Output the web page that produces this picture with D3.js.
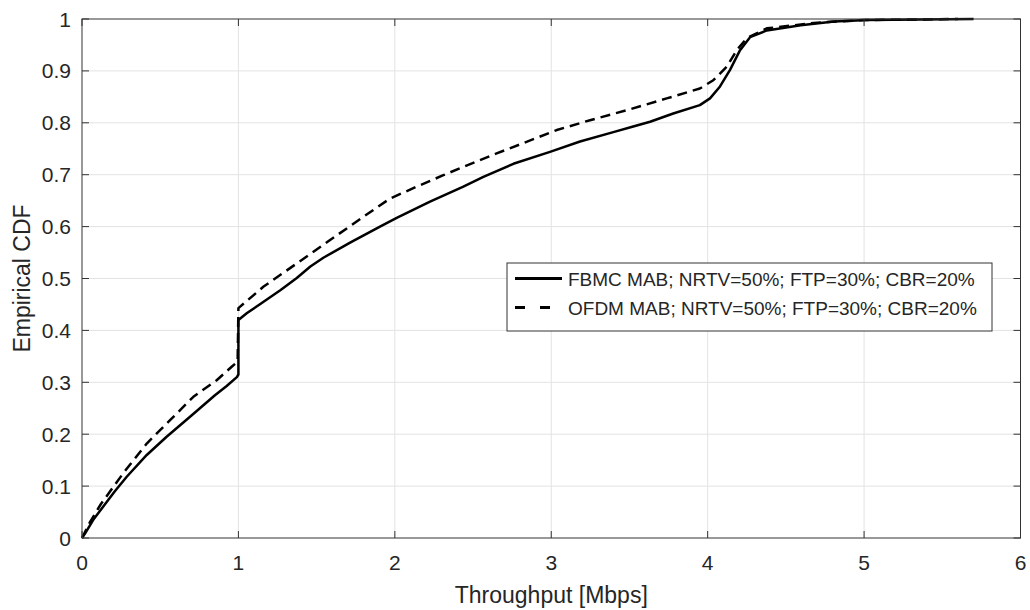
<!DOCTYPE html>
<html>
<head>
<meta charset="utf-8">
<script src="https://cdn.jsdelivr.net/npm/d3@7"></script>
<style>
  html, body { margin: 0; padding: 0; background: #fff; }
  svg { display: block; font-family: "Liberation Sans", Arial, sans-serif; }
</style>
</head>
<body>
<svg id="chart" width="1030" height="610"></svg>
<script>
// Empirical CDF of throughput (Mbps) for the two multiple-access schemes
const fbmcX = [0, 0.02, 0.072, 0.147, 0.21, 0.286, 0.414, 0.541, 0.70, 0.85, 0.925, 0.99, 1.0,
  1.0, 1.053, 1.14, 1.27, 1.373, 1.46, 1.543, 1.714, 1.905, 2.012, 2.225, 2.438, 2.566, 2.758, 2.992,
  3.184, 3.397, 3.524, 3.632, 3.78, 3.95, 4.015, 4.079, 4.143, 4.207, 4.271, 4.378, 4.595, 4.808, 5.02, 5.7];
const fbmcY = [0, 0.009, 0.035, 0.065, 0.09, 0.118, 0.16, 0.195, 0.236, 0.275, 0.293, 0.31, 0.315,
  0.42, 0.433, 0.451, 0.478, 0.501, 0.523, 0.54, 0.569, 0.60, 0.617, 0.648, 0.677, 0.696, 0.721, 0.744,
  0.764, 0.782, 0.793, 0.802, 0.818, 0.834, 0.847, 0.87, 0.902, 0.94, 0.965, 0.978, 0.988, 0.995, 0.998, 1.0];

const ofdmX = [0, 0.05, 0.12, 0.264, 0.414, 0.563, 0.712, 0.861, 0.957, 0.995, 1.0,
  1.159, 1.373, 1.586, 1.799, 1.969, 2.14, 2.31, 2.438, 2.651, 2.822, 3.035, 3.248, 3.504,
  3.738, 3.95, 4.036, 4.122, 4.186, 4.25, 4.378, 4.7, 5.0, 5.6];
const ofdmY = [0, 0.03, 0.065, 0.125, 0.182, 0.227, 0.272, 0.304, 0.33, 0.34, 0.443,
  0.484, 0.529, 0.574, 0.619, 0.654, 0.677, 0.699, 0.715, 0.741, 0.761, 0.786, 0.805, 0.826,
  0.847, 0.866, 0.882, 0.908, 0.94, 0.963, 0.982, 0.993, 0.998, 1.0];

const xTicks = [0, 1, 2, 3, 4, 5, 6];
const yTicks = [0, 0.1, 0.2, 0.3, 0.4, 0.5, 0.6, 0.7, 0.8, 0.9, 1];
const yTickLabels = ["0", "0.1", "0.2", "0.3", "0.4", "0.5", "0.6", "0.7", "0.8", "0.9", "1"];

const seriesNames = [
  "FBMC MAB; NRTV=50%; FTP=30%; CBR=20%",
  "OFDM MAB; NRTV=50%; FTP=30%; CBR=20%"
];
const xLabel = "Throughput [Mbps]";
const yLabel = "Empirical CDF";

const svg = d3.select("#chart");
const plotL = 82, plotR = 1020.5, plotT = 19, plotB = 538;
const x = d3.scaleLinear().domain([0, 6]).range([plotL, plotR]);
const y = d3.scaleLinear().domain([0, 1]).range([plotB, plotT]);

const axisColor = "#333";
const textColor = "#262626";

// grid
const grid = svg.append("g");
grid.selectAll("line.gx").data(xTicks.slice(1, -1)).join("line").attr("class", "gx")
  .attr("x1", d => x(d)).attr("x2", d => x(d))
  .attr("y1", plotT).attr("y2", plotB)
  .attr("stroke", "#e3e3e3").attr("stroke-width", 1);
grid.selectAll("line.gy").data(yTicks.slice(1, -1)).join("line").attr("class", "gy")
  .attr("x1", plotL).attr("x2", plotR)
  .attr("y1", d => y(d)).attr("y2", d => y(d))
  .attr("stroke", "#e3e3e3").attr("stroke-width", 1);

// series
const line = d3.line().x(d => x(d[0])).y(d => y(d[1]));
const fbmc = fbmcX.map((v, i) => [v, fbmcY[i]]);
const ofdm = ofdmX.map((v, i) => [v, ofdmY[i]]);

svg.append("path").datum(ofdm).attr("d", line)
  .attr("fill", "none").attr("stroke", "#000").attr("stroke-width", 2.5)
  .attr("stroke-dasharray", "10,6").attr("stroke-linejoin", "round");
svg.append("path").datum(fbmc).attr("d", line)
  .attr("fill", "none").attr("stroke", "#000").attr("stroke-width", 2.5)
  .attr("stroke-linejoin", "round");

// axes box with inward ticks on all four sides
const axes = svg.append("g");
axes.append("rect").attr("x", plotL).attr("y", plotT)
  .attr("width", plotR - plotL).attr("height", plotB - plotT)
  .attr("fill", "none").attr("stroke", axisColor).attr("stroke-width", 1);

const tl = 7;
xTicks.forEach(t => {
  axes.append("line").attr("x1", x(t)).attr("x2", x(t)).attr("y1", plotB).attr("y2", plotB - tl)
    .attr("stroke", axisColor);
  axes.append("line").attr("x1", x(t)).attr("x2", x(t)).attr("y1", plotT).attr("y2", plotT + tl)
    .attr("stroke", axisColor);
});
yTicks.forEach(t => {
  axes.append("line").attr("x1", plotL).attr("x2", plotL + tl).attr("y1", y(t)).attr("y2", y(t))
    .attr("stroke", axisColor);
  axes.append("line").attr("x1", plotR).attr("x2", plotR - tl).attr("y1", y(t)).attr("y2", y(t))
    .attr("stroke", axisColor);
});

// tick labels
svg.append("g").selectAll("text").data(xTicks).join("text")
  .attr("x", d => x(d)).attr("y", plotB + 32)
  .attr("text-anchor", "middle").attr("font-size", 21).attr("fill", textColor)
  .text(d => d);
svg.append("g").selectAll("text").data(yTicks).join("text")
  .attr("x", plotL - 11).attr("y", d => y(d)).attr("dy", "0.36em")
  .attr("text-anchor", "end").attr("font-size", 21).attr("fill", textColor)
  .text((d, i) => yTickLabels[i]);

// axis labels
svg.append("text").attr("x", (plotL + plotR) / 2).attr("y", 603)
  .attr("text-anchor", "middle").attr("font-size", 23).attr("fill", textColor)
  .text(xLabel);
svg.append("text")
  .attr("transform", `translate(30, ${(plotT + plotB) / 2}) rotate(-90)`)
  .attr("text-anchor", "middle").attr("font-size", 23).attr("fill", textColor)
  .text(yLabel);

// legend
const lg = svg.append("g");
lg.append("rect").attr("x", 507).attr("y", 263).attr("width", 485).attr("height", 68)
  .attr("fill", "#fff").attr("stroke", axisColor).attr("stroke-width", 1);
lg.append("line").attr("x1", 515).attr("x2", 562).attr("y1", 278.5).attr("y2", 278.5)
  .attr("stroke", "#000").attr("stroke-width", 3);
lg.append("line").attr("x1", 515).attr("x2", 550).attr("y1", 307.5).attr("y2", 307.5)
  .attr("stroke", "#000").attr("stroke-width", 3).attr("stroke-dasharray", "10,15");
lg.selectAll("text").data(seriesNames).join("text")
  .attr("x", 568).attr("y", (d, i) => 285.5 + i * 29)
  .attr("font-size", 19).attr("fill", textColor)
  .text(d => d);
</script>
</body>
</html>
